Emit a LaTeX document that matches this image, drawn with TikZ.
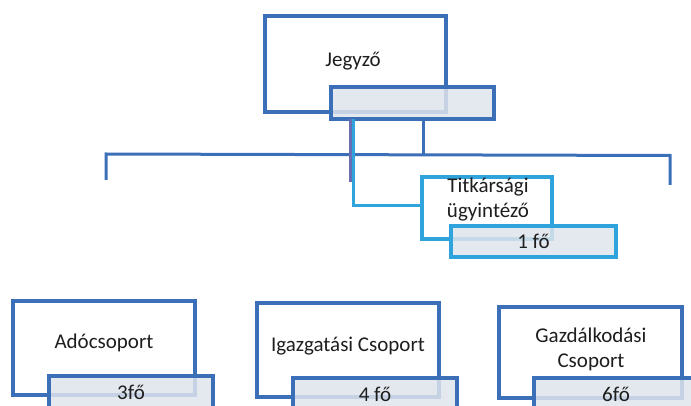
\documentclass[tikz,border=0pt]{standalone}
\usepackage{fontspec}
\setmainfont{Carlito}
\definecolor{mblue}{HTML}{3B70B8}
\definecolor{lblue}{HTML}{2EA3DC}
\definecolor{vblue}{HTML}{6A6CB4}
\definecolor{gfill}{HTML}{DFE4EC}
\definecolor{txt}{HTML}{1E1E1E}
\begin{document}
\begin{tikzpicture}[x=1pt,y=-1pt,
  box/.style={draw=mblue,line width=4pt,fill=white,inner sep=0pt,outer sep=0pt},
  lbox/.style={draw=lblue,line width=4pt,fill=white,inner sep=0pt,outer sep=0pt},
  gbox/.style={draw=mblue,line width=3.2pt,fill=gfill,fill opacity=0.85,text opacity=1,inner sep=0pt,outer sep=0pt,text=txt,font=\fontsize{21}{25}\selectfont},
  lgbox/.style={gbox,draw=lblue},
  lbl/.style={text=txt,font=\fontsize{21}{25}\selectfont,align=center,inner sep=0pt},
  conn/.style={draw=mblue,line width=3pt},
  lconn/.style={draw=lblue,line width=3pt},
  vconn/.style={draw=vblue,line width=3pt}]
\useasboundingbox (0,0) rectangle (691,406);
\clip (0,0) rectangle (691,406);
% coordinates
\coordinate (hl) at (106,154);
\coordinate (hr) at (670,155.5);
\coordinate (dl) at (106,180);
\coordinate (dr) at (670,185);
\coordinate (va) at (350,182);
\coordinate (vb) at (353,206);
\coordinate (vc) at (423,155);
% connectors (behind boxes)
\draw[conn] (dl) -- (hl) -- (hr) -- (dr);
% top box
\node[box,minimum width=181pt,minimum height=96pt] (jegyzo) at (355.5,64) {};
\node[lbl] (jegyzoT) at (353,61) {Jegyző};
\node[gbox,minimum width=163pt,minimum height=32pt] (jegyzoG) at (412.5,103) {};
\draw[vconn] (jegyzoG.south -| va) -- (va);
\draw[conn] (jegyzoG.south -| vc) -- (vc);
% secretary
\node[lbox,minimum width=130pt,minimum height=62pt] (titk) at (487,208) {};
\draw[lconn] (jegyzoG.south -| vb) -- (vb) -- (vb -| titk.west);
\node[lbl] (titkT) at (488,200) {Titkársági\\ügyintéző};
\node[lgbox,minimum width=165pt,minimum height=31pt] (titkG) at (533.5,241.5) {1 fő};
% bottom row
\node[box,minimum width=182pt,minimum height=94pt] (ado) at (104,348) {};
\node[lbl] (adoT) at (104,343) {Adócsoport};
\node[gbox,minimum width=164pt,minimum height=32pt] (adoG) at (131,392) {3fő};
\node[box,minimum width=182pt,minimum height=94pt] (igaz) at (348,350) {};
\node[lbl] (igazT) at (348,346) {Igazgatási Csoport};
\node[gbox,minimum width=164pt,minimum height=32pt] (igazG) at (375,394) {4 fő};
\node[box,minimum width=183pt,minimum height=91pt] (gazd) at (590.5,352.5) {};
\node[lbl] (gazdT) at (591,349) {Gazdálkodási\\Csoport};
\node[gbox,minimum width=164pt,minimum height=32pt] (gazdG) at (616,394) {6fő};
\end{tikzpicture}
\end{document}
